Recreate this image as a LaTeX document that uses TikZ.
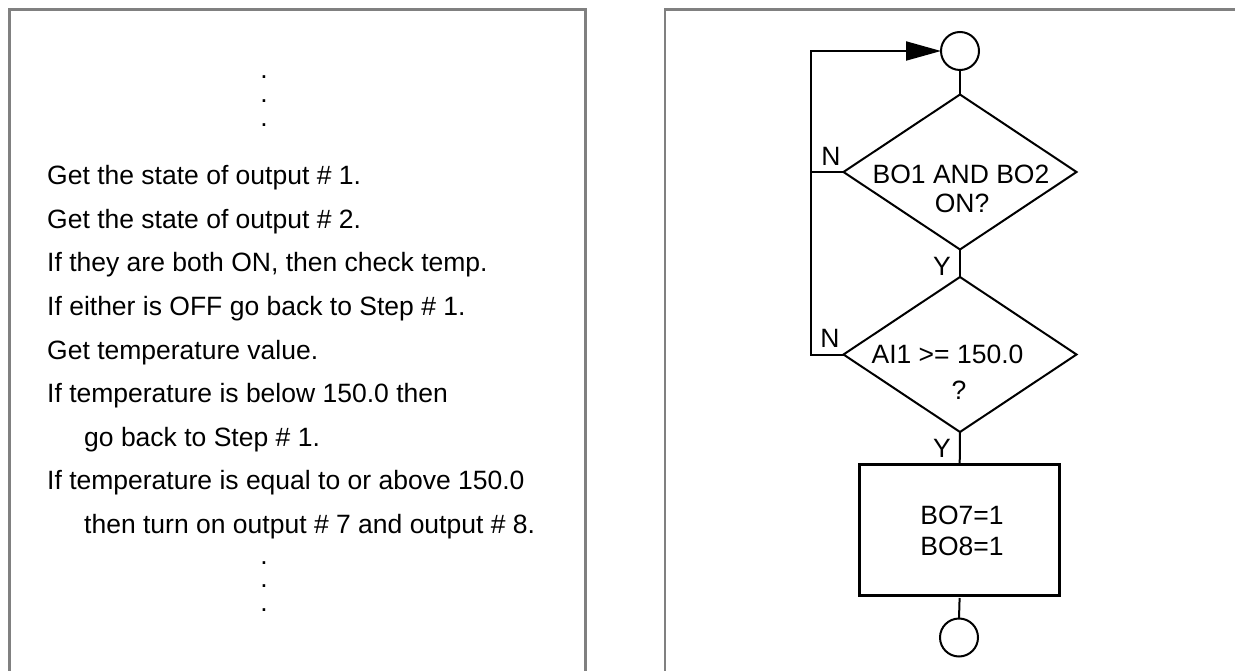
\documentclass[tikz,border=0pt]{standalone}
\usepackage{fontspec}
\setmainfont{Liberation Sans}
\usetikzlibrary{shapes.geometric,arrows.meta}
\definecolor{framegray}{RGB}{128,128,128}
\begin{document}
\begin{tikzpicture}[x=1pt,y=-1pt,
  font=\fontsize{26.5}{30}\selectfont,
  frame/.style={draw=framegray, line width=2.8pt},
  flow/.style={draw=black, line width=2pt},
  txt/.style={inner sep=0pt, anchor=base west},
  dotmark/.style={inner sep=0pt, anchor=base},
  lbl/.style={inner sep=0pt},
  decision/.style={diamond, draw, line width=2pt, minimum width=233pt, minimum height=155pt, inner sep=0pt, outer sep=0pt},
  connector/.style={circle, draw, line width=2pt, minimum size=38pt, inner sep=0pt, outer sep=0pt},
  action/.style={rectangle, draw, line width=3pt, minimum width=200pt, minimum height=131pt, inner sep=0pt, outer sep=0pt},
  tip/.style={-{Triangle[length=35pt,width=19pt]}}
]
\useasboundingbox (0,0) rectangle (1235,671);
\fill[white] (0,0) rectangle (1235,671);

% panel frames
\draw[frame] (9.5,673) -- (9.5,9.5) -- (585.5,9.5) -- (585.5,673);
\draw[frame] (665,673) -- (665,9.5) -- (1238,9.5);

% left text
\node[dotmark] (dA1) at (264,79) {.};
\node[dotmark] (dA2) at (264,103) {.};
\node[dotmark] (dA3) at (264,127) {.};
\node[txt] (l1) at (47,185) {Get the state of output \# 1.};
\node[txt] (l2) at (47,228.5) {Get the state of output \# 2.};
\node[txt] (l3) at (47,272) {If they are both ON, then check temp.};
\node[txt] (l4) at (47,315.5) {If either is OFF go back to Step \# 1.};
\node[txt] (l5) at (47,359) {Get temperature value.};
\node[txt] (l6) at (47,402.5) {If temperature is below 150.0 then};
\node[txt] (l7) at (84,446) {go back to Step \# 1.};
\node[txt] (l8) at (47,489.5) {If temperature is equal to or above 150.0};
\node[txt] (l9) at (84,533) {then turn on output \# 7 and output \# 8.};
\node[dotmark] (dB1) at (264,564) {.};
\node[dotmark] (dB2) at (264,587.5) {.};
\node[dotmark] (dB3) at (264,611) {.};

% flowchart
\node[connector] (c1) at (960,51) {};
\node[decision] (d1) at (960,172) {};
\node[decision] (d2) at (960,354.5) {};
\node[action] (b1) at (959.7,529.5) {};
\node[connector] (c2) at (959,637.5) {};
\coordinate (lt) at (811,51);

\node[lbl] (t1a) at (961,174) {BO1 AND BO2};
\node[lbl] (t1b) at (962,203) {ON?};
\node[lbl] (t2a) at (947.5,354.5) {AI1 >= 150.0};
\node[lbl] (t2b) at (959,390) {?};
\node[lbl] (t3a) at (962,515) {BO7=1};
\node[lbl] (t3b) at (962,546) {BO8=1};

\draw[flow] (c1.south) -- (d1.north);
\draw[flow] (d1.south) -- (d2.north);
\draw[flow] (d2.south) -- (b1.north);
\draw[flow, shorten <=3pt] (b1.south) -- (c2.north);
\draw[flow] (d1.west) -- (d1.west -| lt);
\draw[flow, tip] (d2.west) -| (lt) -- (c1.west);

\node[lbl] (n1) at (831,156.5) {N};
\node[lbl] (n2) at (830,338) {N};
\node[lbl] (y1) at (942,266.5) {Y};
\node[lbl] (y2) at (942,448) {Y};
\end{tikzpicture}
\end{document}
